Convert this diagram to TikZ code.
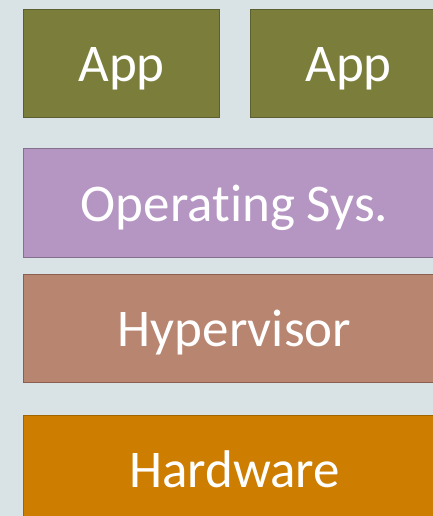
\documentclass[tikz,border=0pt]{standalone}
\usepackage{fontspec}
\setmainfont{Carlito}[Ligatures=NoCommon]
\usetikzlibrary{positioning}

\definecolor{bgslate}{HTML}{D9E2E5}
\definecolor{appfill}{HTML}{7A7E3A}
\definecolor{appline}{HTML}{5C6030}
\definecolor{osfill}{HTML}{B595C2}
\definecolor{osline}{HTML}{86708F}
\definecolor{hypfill}{HTML}{B88570}
\definecolor{hypline}{HTML}{8A5F50}
\definecolor{hwfill}{HTML}{CD7D00}
\definecolor{hwline}{HTML}{A06400}

\tikzset{
  layer/.style={draw, line width=1pt, text=white, inner sep=0pt,
    text height=36pt, text depth=0pt,
    minimum height=108pt, font=\fontsize{53}{60}\selectfont},
  appbox/.style={layer, fill=appfill, draw=appline, minimum width=196pt},
  widebox/.style={layer, minimum width=422pt},
}

\begin{document}
\begin{tikzpicture}[x=1pt, y=-1pt]
        \useasboundingbox (0,0) rectangle (433,516);
        \fill[bgslate] (0,0) rectangle (433,516);
        \node[appbox, anchor=north west] (app1) at (23,9) {App};
        \node[appbox, right=30pt of app1] (app2) {App};
        \node[widebox, fill=osfill, draw=osline, below right=30pt and 0pt of app1.south west, anchor=north west, minimum height=109pt] (os) {Operating Sys.};
        \node[widebox, fill=hypfill, draw=hypline, below right=16pt and 0pt of os.south west, anchor=north west] (hyp) {Hypervisor};
        \node[widebox, fill=hwfill, draw=hwline, below right=32pt and 0pt of hyp.south west, anchor=north west] (hw) {Hardware};
     \end{tikzpicture}
\end{document}
